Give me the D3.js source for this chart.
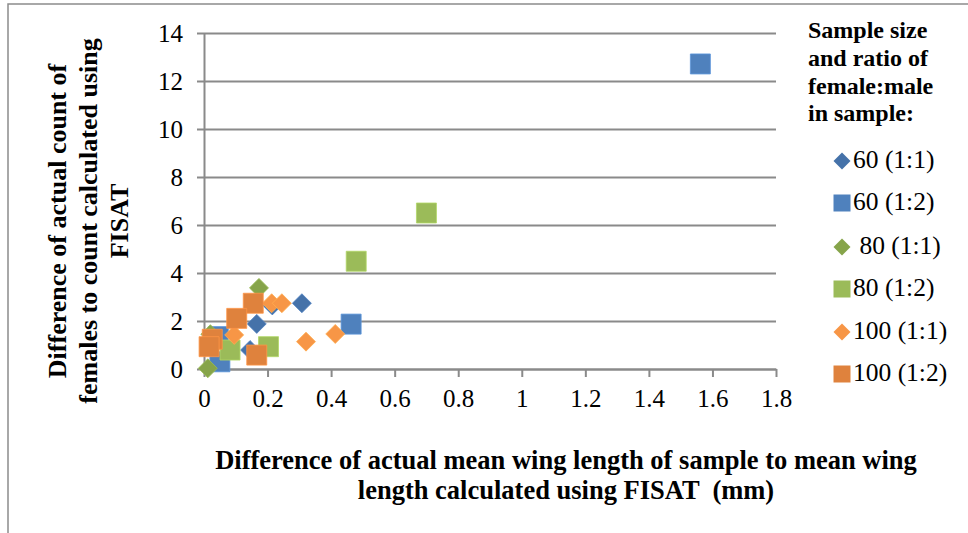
<!DOCTYPE html>
<html>
<head>
<meta charset="utf-8">
<script src="https://cdn.jsdelivr.net/npm/d3@7/dist/d3.min.js"></script>
<style>
  html, body { margin: 0; padding: 0; background: #fff; }
  svg { display: block; }
  text { font-family: "Liberation Serif", "Times New Roman", serif; fill: #000; white-space: pre; }
</style>
</head>
<body>
<svg id="chart" width="968" height="533"></svg>
<script>
// ---- data ----
const xTicks = [0, 0.2, 0.4, 0.6, 0.8, 1, 1.2, 1.4, 1.6, 1.8];
const yTicks = [0, 2, 4, 6, 8, 10, 12, 14];
const seriesNames = ["60 (1:1)", "60 (1:2)", " 80 (1:1)", "80 (1:2)", "100 (1:1)", "100 (1:2)"];
const seriesShapes = ["diamond", "square", "diamond", "square", "diamond", "square"];
const seriesColors = ["#4572a9", "#4f81bd", "#86a44a", "#9bbb59", "#f79646", "#df823d"];

const s60_11 = [[0.215, 2.65], [0.308, 2.74], [0.166, 1.88], [0.145, 0.79]];
const s60_12 = [[1.562, 12.71], [0.463, 1.87], [0.045, 1.35], [0.05, 0.3]];
const s80_11 = [[0.173, 3.38], [0.02, 1.45], [0.012, 0.03]];
const s80_12 = [[0.70, 6.5], [0.479, 4.49], [0.203, 0.93], [0.082, 0.79]];
const s100_11 = [[0.213, 2.74], [0.245, 2.74], [0.095, 1.42], [0.321, 1.14], [0.413, 1.46]];
const s100_12 = [[0.155, 2.74], [0.103, 2.11], [0.026, 1.24], [0.016, 0.93], [0.166, 0.58]];
const seriesData = [s60_11, s60_12, s80_11, s80_12, s100_11, s100_12];

const yTitle = ["Difference of actual count of", "females to count calculated using", "FISAT"];
const xTitle = ["Difference of actual mean wing length of sample to mean wing", "length calculated using FISAT  (mm)"];
const legendTitle = ["Sample size", "and ratio of", "female:male", "in sample:"];

// ---- layout ----
const svg = d3.select("#chart");
const L = 204, R = 776, T = 33, B = 369;
const x = d3.scaleLinear().domain([0, 1.8]).range([L, R]);
const y = d3.scaleLinear().domain([0, 14]).range([B, T]);
const gridColor = "#8a8a8a";
const serif = "Liberation Serif, Times New Roman, serif";

// outer frame
svg.append("rect").attr("x", 8).attr("y", 4).attr("width", 1200).attr("height", 1200)
  .attr("fill", "none").attr("stroke", "#8c8c8c").attr("stroke-width", 1.5);

// y axis with gridlines
const yAxis = svg.append("g").attr("transform", `translate(${L},0)`)
  .call(d3.axisLeft(y).tickValues(yTicks).tickSizeInner(7).tickSizeOuter(0).tickPadding(14)
    .tickFormat(d => String(d)));
yAxis.attr("font-family", serif).attr("font-size", 25);
yAxis.select(".domain").attr("stroke", gridColor).attr("stroke-width", 2);
yAxis.selectAll(".tick line").attr("x1", -7).attr("x2", R - L).attr("stroke", gridColor).attr("stroke-width", 2);
yAxis.selectAll(".tick text").attr("font-size", 25).attr("font-family", serif)
  .attr("fill", "#000").attr("dy", "0.33em");

// x axis
const xAxis = svg.append("g").attr("transform", `translate(0,${B})`)
  .call(d3.axisBottom(x).tickValues(xTicks).tickSizeInner(8).tickSizeOuter(0).tickPadding(16)
    .tickFormat(d => String(d)));
xAxis.attr("font-family", serif).attr("font-size", 25);
xAxis.select(".domain").attr("stroke", gridColor).attr("stroke-width", 2);
xAxis.selectAll(".tick line").attr("stroke", gridColor).attr("stroke-width", 2);
xAxis.selectAll(".tick text").attr("font-size", 25).attr("font-family", serif)
  .attr("fill", "#000").attr("dy", "0.55em");

// markers
function shapePath(shape, cx, cy, r) {
  if (shape === "square") {
    return `M${cx - r},${cy - r}H${cx + r}V${cy + r}H${cx - r}Z`;
  }
  return `M${cx},${cy - r}L${cx + r},${cy}L${cx},${cy + r}L${cx - r},${cy}Z`;
}

seriesData.forEach((data, i) => {
  const shape = seriesShapes[i];
  const r = shape === "square" ? 10 : 9.5;
  svg.append("g").selectAll("path").data(data).join("path")
    .attr("d", d => shapePath(shape, x(d[0]), y(d[1]), r))
    .attr("fill", seriesColors[i])
    .attr("stroke", d3.color(seriesColors[i]).brighter(0.4))
    .attr("stroke-width", 0.8);
});

// y title
const yt = svg.append("g");
const yBase = [66, 97, 128];
yTitle.forEach((t, i) => {
  yt.append("text").text(t)
    .attr("transform", `translate(${yBase[i]},221) rotate(-90)`)
    .attr("text-anchor", "middle").attr("font-weight", "bold").attr("font-size", 26);
});

// x title
const xBase = [469, 499];
xTitle.forEach((t, i) => {
  svg.append("text").text(t).attr("x", 566).attr("y", xBase[i])
    .attr("text-anchor", "middle").attr("font-weight", "bold").attr("font-size", 26.5);
});

// legend
const lgTitleBase = [38, 66, 93.5, 121];
legendTitle.forEach((t, i) => {
  svg.append("text").text(t).attr("x", 808).attr("y", lgTitleBase[i])
    .attr("font-weight", "bold").attr("font-size", 24);
});
const lgBase = [168, 210, 254, 296, 339, 381];
seriesNames.forEach((name, i) => {
  const cy = lgBase[i] - 7;
  const shape = seriesShapes[i];
  svg.append("path").attr("d", shapePath(shape, 842, cy, 8.5))
    .attr("fill", seriesColors[i]);
  svg.append("text").text(name).attr("x", 853).attr("y", lgBase[i]).attr("font-size", 25.5);
});
</script>
</body>
</html>
